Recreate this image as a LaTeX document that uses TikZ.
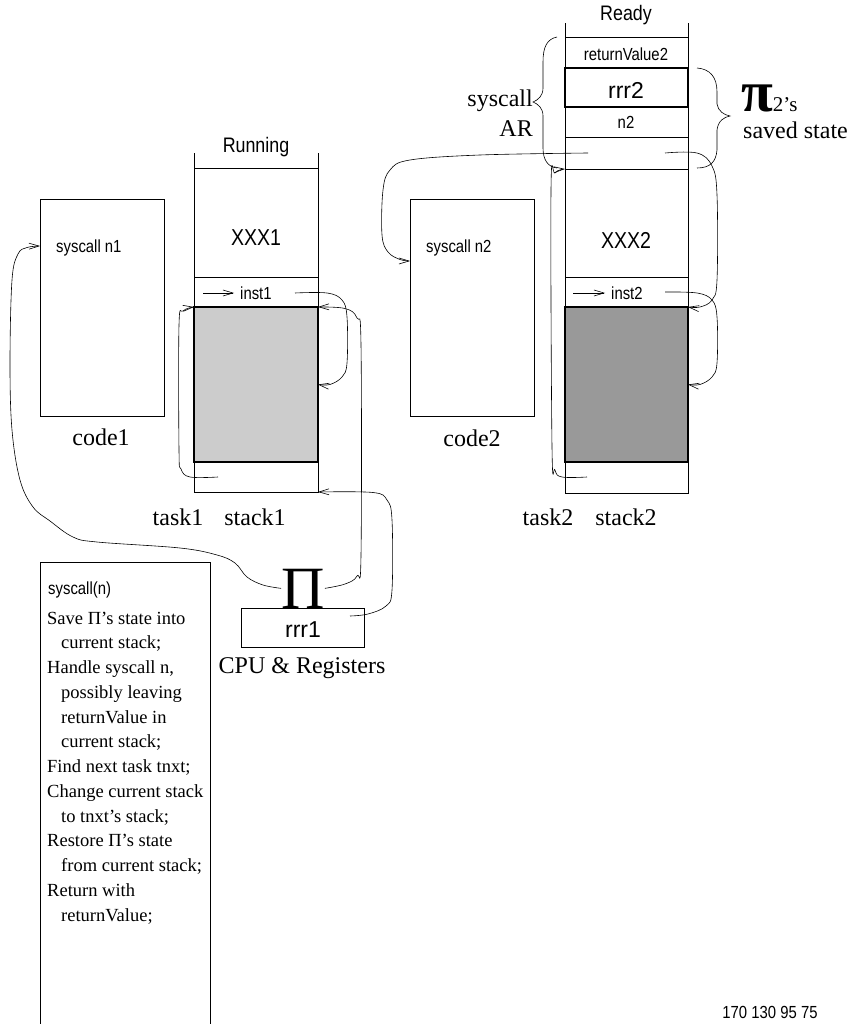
\documentclass[tikz,border=0pt]{standalone}
\usepackage{fontspec}
\setmainfont{Liberation Serif}
\newfontfamily\hvnarrow[FakeStretch=0.85]{Liberation Sans}
\newfontfamily\hvreg{Liberation Sans}
\usetikzlibrary{arrows.meta}
\definecolor{greyA}{RGB}{204,204,204}
\definecolor{greyB}{RGB}{153,153,153}
\begin{document}
\begin{tikzpicture}[x=1pt,y=-1pt,
  edge/.style={line width=0.6pt},
  cell/.style={draw, line width=0.6pt, inner sep=0pt, outer sep=0pt, anchor=north west},
  shaded/.style={cell, line width=1.1pt},
  sflab/.style={font=\hvnarrow\fontsize{17.5}{20}\selectfont, inner sep=0pt},
  toplab/.style={font=\hvnarrow\fontsize{21}{24}\selectfont, inner sep=0pt},
  xxxlab/.style={font=\hvnarrow\fontsize{23}{26}\selectfont, inner sep=0pt},
  rrrlab/.style={font=\hvreg\fontsize{23}{26}\selectfont, inner sep=0pt},
  serlab/.style={font=\fontsize{24}{28}\selectfont, inner sep=0pt},
  codeline/.style={font=\fontsize{18.5}{24}\selectfont, inner sep=0pt, anchor=base west},
  conn/.style={line width=0.6pt, -{Straight Barb[length=10pt,width=6pt,line width=0.6pt]}},
  wire/.style={line width=0.6pt}
]
\useasboundingbox (0,0) rectangle (853,1024);

% ---------------- stack 1 ----------------
\node[cell, minimum width=124pt, minimum height=109pt] (s1xxx) at (194,168) {};
\node[cell, minimum width=124pt, minimum height=30pt] (s1inst) at (194,277) {};
\node[cell, minimum width=124pt, minimum height=30pt] (s1bot) at (194,462) {};
\node[shaded, fill=greyA, minimum width=124pt, minimum height=155pt] (s1grey) at (194,307) {};
\draw[edge] (s1xxx.north west) -- ++(0,-15);
\draw[edge] (s1xxx.north east) -- ++(0,-15);
\node[toplab] (trun) at (256,147) {Running};
\node[xxxlab] (txxx1) at (256,238) {XXX1};
\node[sflab, anchor=west] (tinst1) at (240,293) {inst1};

% ---------------- stack 2 ----------------
\node[cell, minimum width=123pt, minimum height=31pt] (s2rv) at (565,37) {};
\node[cell, minimum width=123pt, minimum height=30pt] (s2n) at (565,107) {};
\node[cell, minimum width=123pt, minimum height=32pt] (s2e) at (565,137) {};
\node[cell, minimum width=123pt, minimum height=108pt] (s2xxx) at (565,169) {};
\node[cell, minimum width=123pt, minimum height=30pt] (s2inst) at (565,277) {};
\node[cell, minimum width=123pt, minimum height=31pt] (s2bot) at (565,462) {};
\node[shaded, minimum width=123pt, minimum height=39pt] (s2rrr) at (565,68) {};
\node[shaded, fill=greyB, minimum width=123pt, minimum height=155pt] (s2grey) at (565,307) {};
\draw[edge] (s2rv.north west) -- ++(0,-14);
\draw[edge] (s2rv.north east) -- ++(0,-14);
\node[toplab] (tready) at (626,15) {Ready};
\node[sflab] (trv2) at (626,54) {returnValue2};
\node[rrrlab] (trrr2) at (626,90) {rrr2};
\node[sflab] (tn2) at (626,122) {n2};
\node[xxxlab] (txxx2) at (626,240) {XXX2};
\node[sflab, anchor=west] (tinst2) at (611,293) {inst2};

% ---------------- code boxes ----------------
\node[cell, minimum width=124pt, minimum height=217pt] (code1) at (40,199) {};
\node[sflab, anchor=west] (tsys1) at (56,248) {syscall n1};
\node[serlab] (tcode1) at (101,437) {code1};
\node[cell, minimum width=124pt, minimum height=217pt] (code2) at (410,199) {};
\node[sflab, anchor=west] (tsys2) at (426,248) {syscall n2};
\node[serlab] (tcode2) at (472,438) {code2};

% ---------------- labels under stacks ----------------
\node[serlab, anchor=base] (ttask1) at (178,525) {task1};
\node[serlab, anchor=base] (tstack1) at (255,525) {stack1};
\node[serlab, anchor=base] (ttask2) at (548,525) {task2};
\node[serlab, anchor=base] (tstack2) at (626,525) {stack2};

% ---------------- syscall AR / saved state ----------------
\node[serlab, anchor=base east] (tsyscall) at (533,107) {syscall};
\node[serlab, anchor=base east] (tar) at (533,137) {AR};
\node[inner sep=0pt, anchor=base west] (tpi2) at (741,112)
  {{\fontsize{58}{58}\selectfont\bfseries π}{\fontsize{21}{24}\selectfont 2’s}};
\node[serlab, anchor=base west] (tsaved) at (743,139) {saved state};
\draw[wire] (557,37) .. controls (547,39) and (543,47) .. (543,62) -- (543,88)
  .. controls (543,96) and (538,100) .. (533,102)
  .. controls (538,104) and (543,108) .. (543,116) -- (543,148)
  .. controls (543,160) and (548,167) .. (557,168);
\draw[wire] (697,68) .. controls (710,69) and (717,77) .. (717,92) -- (717,104)
  .. controls (718,111) and (724,115) .. (730,116)
  .. controls (724,117) and (718,121) .. (717,130) -- (717,150)
  .. controls (716,162) and (710,168) .. (697,168);

% ---------------- CPU ----------------
\node[font=\fontsize{60}{60}\selectfont, inner sep=0pt, anchor=base] (piCPU) at (303,608) {Π};
\node[cell, minimum width=123pt, minimum height=39pt] (cpu) at (241,608) {};
\node[rrrlab] (trrr1) at (303,630) {rrr1};
\node[serlab, anchor=base] (tcpu) at (302,673) {CPU \& Registers};

% ---------------- syscall box ----------------
\node[cell, minimum width=170pt, minimum height=480pt] (sysbox) at (40,562) {};
\node[sflab, anchor=west] (tsysn) at (48,590) {syscall(n)};
\foreach \txt/\ind [count=\i from 0] in {
  {Save Π’s state into}/0, {current stack;}/1, {Handle syscall n,}/0,
  {possibly leaving}/1, {returnValue in}/1, {current stack;}/1,
  {Find next task tnxt;}/0, {Change current stack}/0, {to tnxt’s stack;}/1,
  {Restore Π’s state}/0, {from current stack;}/1, {Return with}/0,
  {returnValue;}/1}
  \node[codeline] (sl\i) at (47+14*\ind, 624+24.75*\i) {\txt};

\node[sflab] (tnums) at (770,1012) {170 130 95 75};

% ---------------- connectors ----------------
\coordinate (a1) at (203,293);
\draw[conn] (a1) -- ([xshift=-6pt]tinst1.west);
\coordinate (a2) at (573,293);
\draw[conn] (a2) -- ([xshift=-6pt]tinst2.west);

\coordinate (c2) at (295,293);
\draw[conn] plot[smooth, tension=0.6] coordinates {(c2) (327,293) (342,300) (347,317) (347,363) (342,377) (330,384.5) (s1grey.east)};

\coordinate (c3) at (218,477);
\draw[conn] plot[smooth, tension=0.6] coordinates {(c3) (190,477) (181,469) (179,450) (179,325) (183,311) (s1grey.north west)};

\draw[conn] plot[smooth, tension=0.6] coordinates {(piCPU.east) (345,584) (357,576) (361,555) (361,345) (357,318) (345,308.5) (s1grey.north east)};

\coordinate (c5) at (350,616);
\draw[conn] plot[smooth, tension=0.6] coordinates {(c5) (368,614) (386,606) (392,590) (392,520) (387,500) (373,492.5) (s1bot.south east)};

\coordinate (c6) at (40,246);
\draw[conn] plot[smooth, tension=0.6] coordinates {(piCPU.west) (263,585) (247,577) (235,563) (217,555) (180,548) (97,542) (73,537) (50,521) (33,507) (20,480) (12,430) (10,363) (12,280) (18,254) (27,247.5) (c6)};

\coordinate (c8) at (665,292);
\draw[conn] plot[smooth, tension=0.6] coordinates {(c8) (697,293) (712,300) (717,317) (717,363) (712,377) (700,384.5) (s2grey.east)};

\coordinate (c9) at (665,153);
\draw[conn] plot[smooth, tension=0.6] coordinates {(c9) (697,153) (712,166) (717,195) (717,280) (712,300) (700,307) (s2grey.north east)};

\coordinate (c10) at (587,477);
\draw[conn] plot[smooth, tension=0.6] coordinates {(c10) (562,477) (555,470) (552,447) (551,190) (555,173) (s2e.south west)};

\coordinate (c11) at (588,153);
\coordinate (c11e) at (410,261);
\draw[conn] plot[smooth, tension=0.6] coordinates {(c11) (480,155) (410,160) (390,170) (383,190) (382,235) (388,252) (400,259.5) (c11e)};
\end{tikzpicture}
\end{document}
